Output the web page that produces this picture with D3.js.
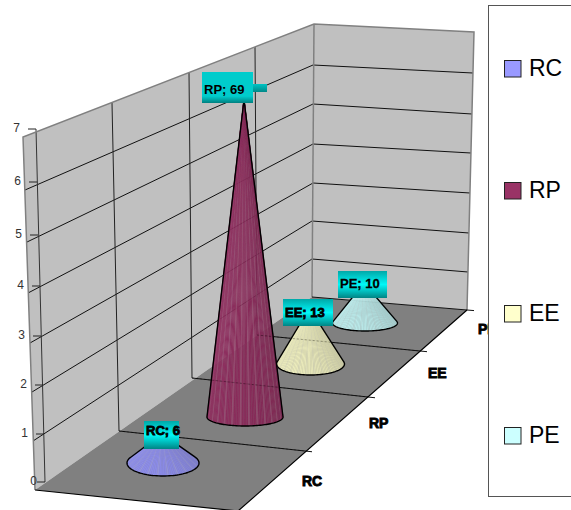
<!DOCTYPE html>
<html>
<head>
<meta charset="utf-8">
<script src="https://cdn.jsdelivr.net/npm/d3@7"></script>
<style>
  html, body { margin: 0; padding: 0; background: #fff; overflow: hidden; }
  svg { display: block; font-family: "Liberation Sans", Arial, sans-serif; }
</style>
</head>
<body>
<svg id="chart" width="571" height="510"></svg>
<script>
// Chart data
const categories = ["RC", "RP", "EE", "PE"];
const values = [6, 69, 13, 10];
const colors = ["#9999ff", "#993366", "#ffffcc", "#ccffff"];
const axisTicks = [0, 1, 2, 3, 4, 5, 6, 7];
const depthSteps = [0, 1, 2, 3, 4];

const svg = d3.select("#chart");

// The wall and floor are skewed, so every edge gets its own pair of scales
const edge = (domain, xs, ys) => {
    const x = d3.scaleLinear().domain(domain).range(xs);
    const y = d3.scaleLinear().domain(domain).range(ys);
    return d => [x(d), y(d)];
};
const sideFront = edge(axisTicks, [35, 33, 32, 30, 28, 27, 25, 23], [490, 441, 392, 343, 293, 242, 190, 137]);
const corner = edge(axisTicks, [312, 312, 312, 313, 313, 313, 313, 314], [297, 259, 221, 183, 144, 104, 65, 24]);
const sideBack = edge(axisTicks, [467, 468, 469, 470, 471, 472, 473, 474], [310, 272, 233, 193, 153, 114, 73, 32]);
const axisLine = edge(axisTicks, [45, 44, 43, 41, 40, 38, 37, 36], [482, 434, 385, 336, 286, 235, 182, 129]);
const wallTop = edge(depthSteps, [36, 112, 189, 255, 314], [129, 103, 73, 47, 24]);
const floorLeft = edge(depthSteps, [45, 119, 192, 257, 312], [482, 431, 378, 335, 297]);
const floorRight = edge(depthSteps, [238, 305, 368, 420, 467], [511, 451, 397, 351, 310]);

// Cone placement on the floor, by category
const baseX = d3.scaleOrdinal().domain(categories).range([163, 245, 310.5, 365]);
const baseY = d3.scaleOrdinal().domain(categories).range([463, 417, 364, 323]);
const baseRx = d3.scaleOrdinal().domain(categories).range([36, 38, 34, 32.5]);
const baseRy = d3.scaleOrdinal().domain(categories).range([13, 9, 11, 8]);
const unitPx = d3.scaleOrdinal().domain(categories).range([4.85, 4.6, 4.3, 4]);

const boxX = d3.scaleOrdinal().domain(categories).range([144, 202, 283, 338]);
const boxY = d3.scaleOrdinal().domain(categories).range([421, 72, 299, 271]);
const boxW = d3.scaleOrdinal().domain(categories).range([35, 51, 50, 49]);
const boxH = d3.scaleOrdinal().domain(categories).range([28, 31, 27, 27]);
const textDy = d3.scaleOrdinal().domain(categories).range([14, 22, 18, 17]);

const line = d3.line();
const poly = pts => line(pts) + "Z";

// Gradients for the data label boxes
const defs = svg.append("defs");
const addGradient = (id, stops) => {
    const g = defs.append("linearGradient").attr("id", id)
        .attr("x1", 0).attr("y1", 0).attr("x2", 0).attr("y2", 1);
    stops.forEach(s => g.append("stop").attr("offset", s[0]).attr("stop-color", s[1]));
};
addGradient("boxPlain", [[0, "#00cccc"], [0.78, "#00cccc"], [1, "#008080"]]);
addGradient("boxShiny", [[0, "#00a8a8"], [0.5, "#00f8f8"], [1, "#008484"]]);
addGradient("boxTab", [[0, "#00c4c4"], [1, "#008888"]]);

// Walls
svg.append("path")
    .attr("d", poly([sideFront(7), corner(7), sideBack(7), sideBack(0), corner(0), sideFront(0)]))
    .attr("fill", "#c0c0c0");

// Wall gridlines
const grid = svg.append("g").attr("fill", "none").attr("stroke", "#111").attr("stroke-width", 1);
axisTicks.slice(1, 7).forEach(t => {
    grid.append("path").attr("d", line([sideFront(t), corner(t), sideBack(t)]));
});
depthSteps.slice(0, 4).forEach(d => {
    grid.append("path").attr("d", line([wallTop(d), floorLeft(d)]))
        .attr("stroke", d === 0 ? "#333" : "#222");
});

// Wall outline
svg.append("path")
    .attr("d", line([sideFront(0), sideFront(7), corner(7), sideBack(7), sideBack(0)]))
    .attr("fill", "none").attr("stroke", "#808080").attr("stroke-width", 1.5);
svg.append("path")
    .attr("d", line([corner(7), corner(0)]))
    .attr("fill", "none").attr("stroke", "#808080").attr("stroke-width", 1.5);

// Floor
svg.append("path")
    .attr("d", poly([sideFront(0), corner(0), sideBack(0), floorRight(0)]))
    .attr("fill", "#808080");
const floorLine = d => {
    const a = floorLeft(d), b = floorRight(d);
    return [a, b, [b[0] + 7, b[1] + (b[1] - a[1]) * 7 / (b[0] - a[0])]];
};
depthSteps.slice(1).forEach(d => {
    svg.append("path").attr("d", line(floorLine(d)))
        .attr("fill", "none").attr("stroke", "#111");
});
svg.append("path")
    .attr("d", line([sideFront(0), floorRight(0), sideBack(0)]))
    .attr("fill", "none").attr("stroke", "#000").attr("stroke-width", 1.2);

// Value axis
axisTicks.forEach(t => {
    const p = axisLine(t);
    svg.append("line")
        .attr("x1", p[0]).attr("y1", p[1]).attr("x2", p[0] - 8).attr("y2", p[1])
        .attr("stroke", "#222");
    svg.append("text")
        .attr("x", p[0] - (t === 0 ? 8 : 16)).attr("y", p[1] + 3)
        .attr("text-anchor", "end").attr("font-size", 12).attr("fill", "#333")
        .text(t);
});

// Cones, back to front
const drawCone = (name, value, color) => {
    const cx = baseX(name), cy = baseY(name), rx = baseRx(name), ry = baseRy(name);
    const y = d3.scaleLinear().domain([0, 1]).range([cy, cy - unitPx(name)]);
    const apex = [cx - 1, y(value)];
    const lift = Math.asin(Math.min(1, ry / (cy - apex[1])));
    const angle = d3.scaleLinear().domain([0, 1]).range([Math.PI + lift, -lift]);
    const shade = d3.scaleLinear().domain([0, 0.45, 1])
        .range([d3.rgb(color).darker(0.12), d3.rgb(color).darker(0.28), d3.rgb(color).darker(0.62)])
        .interpolate(d3.interpolateRgb);
    // faint lighter streaks, as on the rendered facets
    const sliceColor = i => i % 5 === 2
        ? d3.interpolateRgb(shade(i / 70), "#b8b8b8")(0.22)
        : shade(i / 70);
    const slices = d3.range(70);
    const rim = t => [cx + rx * Math.cos(angle(t)), cy + ry * Math.sin(angle(t))];
    const g = svg.append("g");
    g.selectAll("path").data(slices).join("path")
        .attr("d", i => poly([apex, rim(i / 70), rim((i + 1) / 70)]))
        .attr("fill", sliceColor)
        .attr("stroke", sliceColor)
        .attr("stroke-width", 0.3);
    const outline = [apex].concat(d3.range(71).map(i => rim(i / 70)), [apex]);
    g.append("path").attr("d", line(outline))
        .attr("fill", "none").attr("stroke", "#000").attr("stroke-width", 1.4)
        .attr("stroke-linejoin", "round");
};
d3.range(categories.length - 1, -1, -1).forEach(i => drawCone(categories[i], values[i], colors[i]));

// Floor lines show faintly through the cones
depthSteps.slice(1, 4).forEach(d => {
    svg.append("path").attr("d", line(floorLine(d).slice(0, 2)))
        .attr("fill", "none").attr("stroke", "#000")
        .attr("stroke-opacity", 0.3).attr("stroke-dasharray", "2 2");
});

// Data labels
categories.forEach((name, i) => {
    const plain = name === "RP";
    svg.append("rect")
        .attr("x", boxX(name)).attr("y", boxY(name))
        .attr("width", boxW(name)).attr("height", boxH(name))
        .attr("fill", plain ? "url(#boxPlain)" : "url(#boxShiny)");
    if (plain) {
        svg.append("rect")
            .attr("x", boxX(name) + boxW(name)).attr("y", boxY(name) + 12)
            .attr("width", 14).attr("height", 8)
            .attr("fill", "url(#boxTab)");
    }
    svg.append("text")
        .attr("x", boxX(name) + 2)
        .attr("y", boxY(name) + textDy(name))
        .attr("font-size", 13).attr("font-weight", "bold").attr("fill", "#000")
        .attr("stroke", plain ? "none" : "#000")
        .attr("stroke-width", name === "PE" ? 0.3 : 0.8)
        .text(`${name}; ${values[i]}`);
});

// Category labels along the floor edge
const catX = d3.scaleOrdinal().domain(categories).range([302, 369, 428, 478]);
const catY = d3.scaleOrdinal().domain(categories).range([486, 428, 378, 334]);
svg.selectAll(".cat").data(categories).join("text")
    .attr("class", "cat")
    .attr("x", d => catX(d)).attr("y", d => catY(d))
    .attr("font-size", 14).attr("font-weight", "bold")
    .attr("stroke", "#000").attr("stroke-width", 0.9)
    .text(d => d);

// Legend sits over the last category label
svg.append("rect")
    .attr("x", 488.5).attr("y", 5.5).attr("width", 200).attr("height", 491)
    .attr("fill", "#fff").attr("stroke", "#555");
const legendY = d3.scaleOrdinal().domain(categories).range([60, 182, 305, 427]);
const legend = svg.selectAll(".legend").data(categories).join("g")
    .attr("class", "legend")
    .attr("transform", d => `translate(504.5,${legendY(d) + 0.5})`);
legend.append("rect")
    .attr("width", 16.5).attr("height", 16.5)
    .attr("fill", (d, i) => colors[i]).attr("stroke", "#222");
legend.append("text")
    .attr("x", 24.5).attr("y", 15)
    .attr("font-size", 23).attr("fill", "#000")
    .text(d => d);
</script>
</body>
</html>
